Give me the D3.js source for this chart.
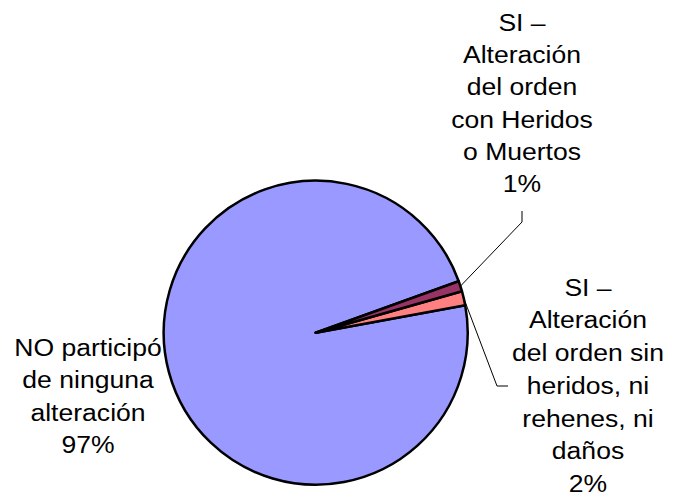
<!DOCTYPE html>
<html>
<head>
<meta charset="utf-8">
<script src="https://cdn.jsdelivr.net/npm/d3@7"></script>
<style>
  body { margin: 0; background: #fff; }
  text { font-family: "Liberation Sans", Arial, sans-serif; fill: #000; }
</style>
</head>
<body>
<script>
// data
var categories = ['SI con heridos', 'SI sin heridos', 'NO'];
var values = [1.1, 1.5, 97.4];
var labelLines = [
  ['SI –', 'Alteración', 'del orden', 'con Heridos', 'o Muertos'],
  ['SI –', 'Alteración', 'del orden sin', 'heridos, ni', 'rehenes, ni', 'daños'],
  ['NO participó', 'de ninguna', 'alteración']
];
var colors = ['#993366', '#FF8080', '#9999FF'];

var width = 676, height = 498;
var cx = 315.7, cy = 332.7, r = 152;

// label layout: centre x, first baseline, line spacing, leader elbow points
var labelPos = [
  { x: 522, y: 31, dy: 32.2, leader: [[522, 211], [522, 222]] },
  { x: 588, y: 295.5, dy: 32.8, leader: [[497, 386], [508, 386]] },
  { x: 88, y: 356, dy: 32.5, leader: null }
];

var svg = d3.select('body').append('svg')
  .attr('width', width)
  .attr('height', height);

var pie = d3.pie()
  .sort(null)
  .startAngle(70.2 * Math.PI / 180)
  .endAngle(70.2 * Math.PI / 180 + 2 * Math.PI);

var arc = d3.arc().innerRadius(0).outerRadius(r);

var arcs = pie(values);

var g = svg.append('g')
  .attr('transform', 'translate(' + cx + ',' + cy + ')');

// big slice first so the thin ones sit on top
g.selectAll('path')
  .data(arcs.slice().reverse())
  .enter().append('path')
  .attr('d', arc)
  .attr('fill', function(d) { return colors[d.index]; })
  .attr('stroke', '#000')
  .attr('stroke-width', 2.5)
  .attr('stroke-linejoin', 'round');

// leader lines
arcs.forEach(function(d, i) {
  var lp = labelPos[i];
  if (!lp.leader) return;
  var a = (d.startAngle + d.endAngle) / 2;
  var p = [cx + r * Math.sin(a), cy - r * Math.cos(a)];
  var pts = [lp.leader[0], lp.leader[1]];
  pts = i === 0 ? [pts[0], pts[1], p] : [p, pts[0], pts[1]];
  svg.append('path')
    .attr('d', d3.line()(pts))
    .attr('fill', 'none')
    .attr('stroke', '#000')
    .attr('stroke-width', 1);
});

// labels
arcs.forEach(function(d, i) {
  var lp = labelPos[i];
  var lines = labelLines[i].concat([Math.round(values[i]) + '%']);
  var t = svg.append('g')
    .attr('transform', 'translate(' + lp.x + ',' + lp.y + ') scale(1.13,1)');
  t.selectAll('text')
    .data(lines)
    .enter().append('text')
    .attr('x', 0)
    .attr('y', function(s, j) { return j * lp.dy; })
    .attr('text-anchor', 'middle')
    .style('font-size', '23.5px')
    .text(function(s) { return s; });
});
</script>
</body>
</html>
